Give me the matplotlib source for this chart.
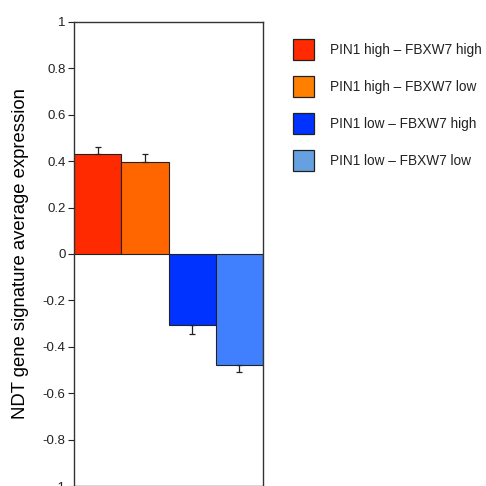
import matplotlib
matplotlib.use("Agg")
import matplotlib.pyplot as plt
from matplotlib.patches import Rectangle

plt.rcParams['font.family'] = ['Liberation Sans', 'DejaVu Sans']

categories = ["PIN1 high \u2013 FBXW7 high", "PIN1 high \u2013 FBXW7 low",
              "PIN1 low \u2013 FBXW7 high", "PIN1 low \u2013 FBXW7 low"]
values = [0.432, 0.397, -0.304, -0.478]
errors = [0.030, 0.035, 0.039, 0.029]
bar_colors = ["#FF2A00", "#FF6600", "#0033FF", "#4080FF"]
legend_colors = ["#FF2A00", "#FF7F00", "#0033FF", "#66A0E0"]
yticks = [-1, -0.8, -0.6, -0.4, -0.2, 0, 0.2, 0.4, 0.6, 0.8, 1]
yticklabels = ["-1", "-0.8", "-0.6", "-0.4", "-0.2", "0", "0.2", "0.4", "0.6", "0.8", "1"]

fig = plt.figure(figsize=(4.86, 4.86), dpi=100)
W = H = 486
ax = fig.add_axes([74 / W, 0.0, (263 - 74) / W, (486 - 22) / H])

x = list(range(len(values)))
ax.bar(x, values, width=1.0, color=bar_colors, edgecolor="#222222", linewidth=0.8, zorder=2)
for xi, v, e in zip(x, values, errors):
    sign = 1 if v >= 0 else -1
    ax.errorbar([xi], [v], yerr=[[0], [e]] if sign > 0 else [[e], [0]],
                fmt="none", ecolor="#222222", elinewidth=0.9, capsize=2, capthick=0.9, zorder=3)

ax.set_xlim(-0.5, 3.5)
ax.set_ylim(-1, 1)
ax.set_yticks(yticks)
ax.set_yticklabels(yticklabels, fontsize=9.5)
ax.set_xticks([])
ax.tick_params(axis="y", direction="out", length=4.5, width=0.8, pad=1.5, colors="#222222")
for s in ax.spines.values():
    s.set_linewidth(1.0)
    s.set_color("#333333")
ax.set_ylabel("NDT gene signature average expression", fontsize=13.3, labelpad=10)

# legend
ys = [50, 87, 124, 161]
for c, lab, yy in zip(legend_colors, categories, ys):
    fig.patches.append(Rectangle((293 / W, 1 - (yy + 10) / H), 21 / W, 21 / H,
                                 transform=fig.transFigure, facecolor=c,
                                 edgecolor="#222222", linewidth=0.9))
    fig.text(330 / W, 1 - yy / H, lab, fontsize=9.8, va="center", ha="left", color="#222222")

fig.savefig("out.png", dpi=100)
